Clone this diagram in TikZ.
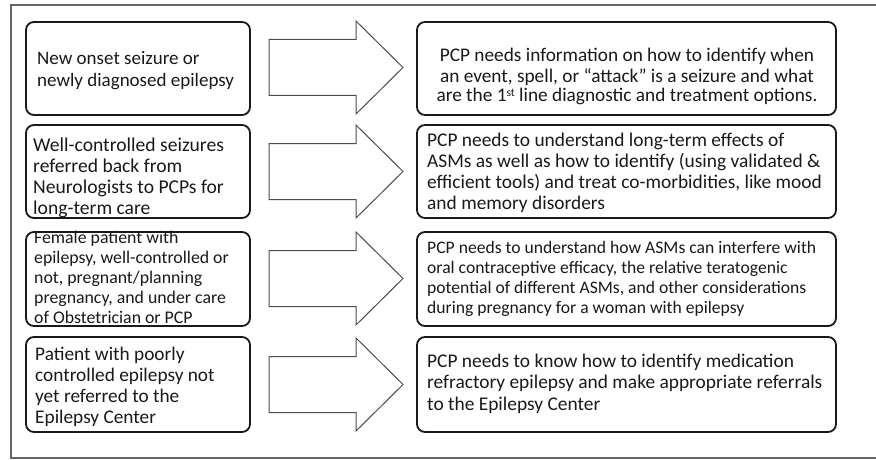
\documentclass[tikz,border=0pt]{standalone}
\usepackage{fontspec}
\setmainfont{Carlito}
\newcommand{\ordsup}[1]{\raisebox{0.3em}{\fontsize{11.5}{11.5}\selectfont #1}}
\begin{document}
\begin{tikzpicture}[x=1pt,y=-1pt,
  frameline/.style={draw=black!60,line width=1.4pt},
  casebox/.style={draw=black!90,line width=1.8pt,rounded corners=8pt},
  blockarrow/.style={draw=black!70,line width=1pt,fill=white},
  txt/.style={inner sep=0pt,anchor=base west,align=left,text=black!90},
  ctxt/.style={inner sep=0pt,anchor=base,align=center,text=black!90}]
\useasboundingbox (0,0) rectangle (876,460);
% outer frame
\draw[frameline] (880,5) -- (11,5) -- (11,458) -- (880,458);
% boxes
\foreach \n/\t/\b in {1/22/115,2/125/218,3/232/326,4/337/432}{
  \draw[casebox] (26,\t) rectangle (250,\b);
  \draw[casebox] (417,\t) rectangle (836,\b);
}
% block arrows
\foreach \c in {67.5,171.5,278.5,384.5}{
  \coordinate (ac) at (336,\c);
  \draw[blockarrow] (269,\c-28) -- (356,\c-28) -- (356,\c-46.5) -- (403,\c)
     -- (356,\c+46.5) -- (356,\c+28) -- (269,\c+28) -- cycle;
}
% left texts (anchored at the baseline of their last line)
\node[txt,font=\fontsize{19}{21}\selectfont] (l1) at (37,86)
  {New onset seizure or\\newly diagnosed epilepsy};
\node[txt,font=\fontsize{19.6}{20.8}\selectfont] (l2) at (33,214)
  {Well-controlled seizures\\referred back from\\Neurologists to PCPs for\\long-term care};
\node[txt,font=\fontsize{17.8}{20}\selectfont] (l3) at (34,323)
  {Female patient with\\epilepsy, well-controlled or\\not, pregnant/planning\\pregnancy, and under care\\of Obstetrician or PCP};
\node[txt,font=\fontsize{19.3}{21}\selectfont] (l4) at (35,423)
  {Patient with poorly\\controlled epilepsy not\\yet referred to the\\Epilepsy Center};
% right texts
\node[ctxt,font=\fontsize{19.3}{20}\selectfont] (r1) at (627,102)
  {PCP needs information on how to identify when\\an event, spell, or “attack” is a seizure and what\\are the 1\ordsup{st} line diagnostic and treatment options.};
\node[txt,font=\fontsize{19.4}{20.7}\selectfont] (r2) at (427,209)
  {PCP needs to understand long-term effects of\\ASMs as well as how to identify (using validated \&\\efficient tools) and treat co-morbidities, like mood\\and memory disorders};
\node[txt,font=\fontsize{17.6}{20}\selectfont] (r3) at (427,313)
  {PCP needs to understand how ASMs can interfere with\\oral contraceptive efficacy, the relative teratogenic\\potential of different ASMs, and other considerations\\during pregnancy for a woman with epilepsy};
\node[txt,font=\fontsize{19.4}{21.5}\selectfont] (r4) at (427,410)
  {PCP needs to know how to identify medication\\refractory epilepsy and make appropriate referrals\\to the Epilepsy Center};
\end{tikzpicture}
\end{document}
